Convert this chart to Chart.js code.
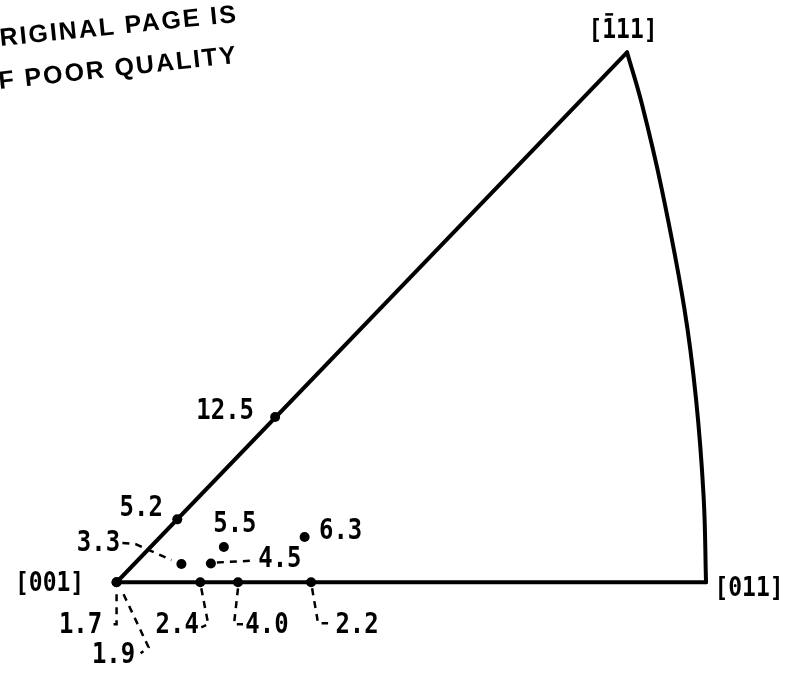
<!doctype html>
<html lang="en">
<head>
<meta charset="UTF-8">
<title>Stereographic triangle</title>
<script src="https://cdn.jsdelivr.net/npm/chart.js"></script>
<style>
body{margin:0;background:#fff;}
#wrap{position:relative;width:791px;height:674px;}
</style>
</head>
<body>
<div id="wrap"><canvas id="chart" width="791" height="674"></canvas></div>
<script>
/* ---------- data: unit triangle, [001] -> [011] = 100 ---------- */
const poleNames = ["[001]", "[011]", "[111]"];
const poleBar   = [-1, -1, 1];          // index of the char carrying an overbar
const poleX = [0, 100, 86.6];
const poleY = [0, 0, 90.1];

// great-circle edge [1̄11] -> [011]
const arcX = [86.6, 89.1, 92.5, 96.3, 98.3, 99.6, 100];
const arcY = [90.1, 81.4, 66.8, 46.7, 31.2, 14.4, 0];

// measured values and where they sit in the triangle
const values = [12.5, 5.2, 3.3, 4.5, 5.5, 6.3, 2.4, 4.0, 2.2, 1.7, 1.9];
const ptX    = [26.9, 10.3, 11.0, 16.0, 18.2, 31.9, 14.2, 20.6, 33.0, 0, 0];
const ptY    = [28.1, 10.7, 3.1, 3.2, 6.0, 7.7, 0, 0, 0, 0, 0];

/* ---------- layout (pixels) ---------- */
const PX_PER_UNIT = 5.97, ORIGIN_X = 113, ORIGIN_Y = 586, W = 791, H = 674;

// label centre offset from its point, optional dashed leader path
const labelPos = [
  {dx:-50, dy:-5},
  {dx:-36, dy:-11},
  {dx:-83, dy:-20, leader:[[-59,-21],[-46,-20],[-30,-13],[-10,-4]]},
  {dx:69,  dy:-4,  leader:[[6,-1],[45,-3]]},
  {dx:11,  dy:-22},
  {dx:36,  dy:-5},
  {dx:-23, dy:44,  leader:[[1,6],[8,42],[1,45]]},
  {dx:29,  dy:44,  leader:[[0,6],[-4,42],[5,42]]},
  {dx:46,  dy:44,  leader:[[1,6],[7,41],[17,41]]},
  {dx:-36, dy:44,  leader:[[0,12],[0,42],[-9,42]]},
  {dx:-3,  dy:74,  leader:[[7,12],[32,65],[24,71]]}
];
const poleLabelPos = [{dx:-67, dy:2}, {dx:43, dy:7}, {dx:-4, dy:-21}];

const pts = (xs, ys) => xs.map((x, i) => ({x, y: ys[i]}));

// typewriter-ish text: a little taller than the font draws it
function tallText(ctx, s, x, y, stretch){
  ctx.save();
  ctx.translate(x, y);
  ctx.scale(1, stretch);
  ctx.fillText(s, 0, 0);
  ctx.restore();
}

/* ---------- labels, leaders, stamp ---------- */
const annotate = {
  id: 'annotate',
  afterDatasetsDraw(chart){
    const {ctx, scales:{x, y}} = chart;
    ctx.save();
    ctx.fillStyle = '#000';
    ctx.strokeStyle = '#000';
    ctx.textAlign = 'center';
    ctx.textBaseline = 'middle';

    values.forEach((v, i) => {
      const px = x.getPixelForValue(ptX[i]), py = y.getPixelForValue(ptY[i]);
      const L = labelPos[i];
      if (L.leader){
        ctx.setLineDash([7, 6]);
        ctx.lineWidth = 2.5;
        ctx.beginPath();
        L.leader.forEach(([ox, oy], k) => k ? ctx.lineTo(px + ox, py + oy) : ctx.moveTo(px + ox, py + oy));
        ctx.stroke();
        ctx.setLineDash([]);
      }
      ctx.font = "bold 24px 'DejaVu Sans Mono'";
      tallText(ctx, v.toFixed(1), px + L.dx, py + L.dy, 1.15);
    });

    ctx.font = "bold 23px 'DejaVu Sans Mono'";
    poleNames.forEach((n, i) => {
      const px = x.getPixelForValue(poleX[i]) + poleLabelPos[i].dx;
      const py = y.getPixelForValue(poleY[i]) + poleLabelPos[i].dy;
      tallText(ctx, n, px, py, 1.15);
      if (poleBar[i] >= 0){
        const cw = ctx.measureText('0').width;
        const left = px - ctx.measureText(n).width / 2 + cw * poleBar[i];
        ctx.lineWidth = 2.5;
        ctx.beginPath();
        ctx.moveTo(left + 3, py - 17);
        ctx.lineTo(left + cw - 3, py - 17);
        ctx.stroke();
      }
    });

    // rubber stamp in the corner
    ctx.textAlign = 'left';
    ctx.textBaseline = 'alphabetic';
    ctx.font = "bold 25px 'Liberation Sans'";
    ctx.letterSpacing = '2px';
    ctx.save(); ctx.translate(0, 46); ctx.rotate(-5.8 * Math.PI / 180);
    ctx.fillText('ORIGINAL PAGE IS', -21, 0); ctx.restore();
    ctx.save(); ctx.translate(0, 89); ctx.rotate(-6.3 * Math.PI / 180);
    ctx.fillText('OF POOR QUALITY', -22, 0); ctx.restore();
    ctx.letterSpacing = '0px';
    ctx.restore();
  }
};

new Chart(document.getElementById('chart'), {
  type: 'scatter',
  data: {
    datasets: [
      { // straight edges [1̄11]-[001]-[011]
        data: [{x:poleX[2], y:poleY[2]}, {x:poleX[0], y:poleY[0]}, {x:poleX[1], y:poleY[1]}],
        showLine: true, borderColor: '#000', borderWidth: 4, pointRadius: 0,
        borderJoinStyle: 'miter', borderCapStyle: 'round'
      },
      {
        data: pts(arcX, arcY),
        showLine: true, borderColor: '#000', borderWidth: 4, pointRadius: 0,
        tension: 0.4, borderCapStyle: 'round'
      },
      {
        data: pts(ptX, ptY),
        pointRadius: 5, pointBackgroundColor: '#000', pointBorderWidth: 0
      }
    ]
  },
  options: {
    responsive: false,
    animation: false,
    events: [],
    layout: { padding: 0 },
    plugins: { legend: { display: false }, tooltip: { enabled: false } },
    scales: {
      x: { type: 'linear', display: false, min: -ORIGIN_X / PX_PER_UNIT, max: (W - ORIGIN_X) / PX_PER_UNIT },
      y: { type: 'linear', display: false, min: -(H - ORIGIN_Y) / PX_PER_UNIT, max: ORIGIN_Y / PX_PER_UNIT }
    }
  },
  plugins: [annotate]
});
</script>
</body>
</html>
